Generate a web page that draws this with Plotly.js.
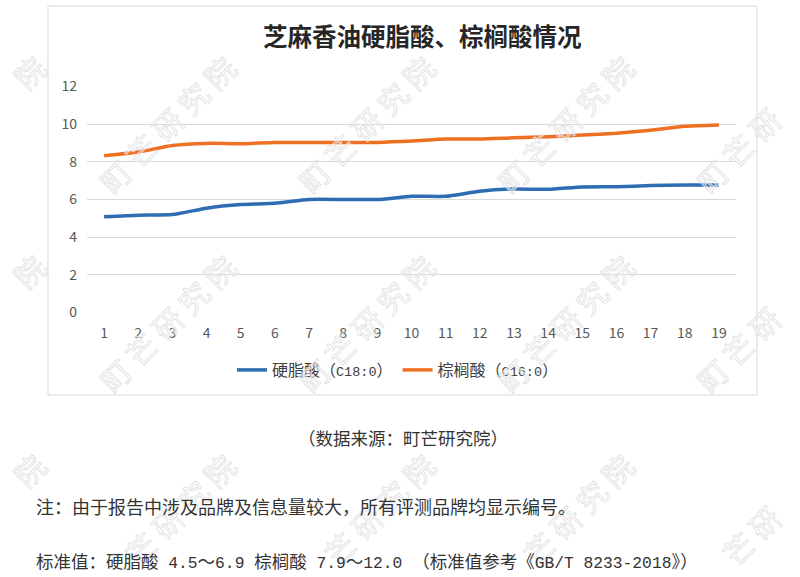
<!DOCTYPE html>
<html>
<head>
<meta charset="utf-8">
<script src="https://cdn.plot.ly/plotly-3.0.1.min.js"></script>
<style>html,body{margin:0;padding:0;background:#fff;}#chart{width:800px;height:577px;}</style>
</head>
<body>
<div id="chart"></div>
<script>
const brands = ["1","2","3","4","5","6","7","8","9","10","11","12","13","14","15","16","17","18","19"];
const stearic = [5.08,5.17,5.20,5.54,5.73,5.80,6.00,6.00,6.00,6.17,6.17,6.44,6.56,6.54,6.67,6.68,6.74,6.77,6.77];
const palmitic = [8.32,8.52,8.87,8.98,8.96,9.03,9.03,9.03,9.03,9.10,9.21,9.21,9.28,9.33,9.42,9.52,9.68,9.89,9.96];
const yTicks = [0,2,4,6,8,10,12];
const seriesNames = ["硬脂酸（C18:0）","棕榈酸（C16:0）"];
const titleText = "芝麻香油硬脂酸、棕榈酸情况";
const sourceText = "（数据来源：町芒研究院）";
const noteText = "注：由于报告中涉及品牌及信息量较大，所有评测品牌均显示编号。";
const stdText = "标准值：硬脂酸 4.5～6.9 棕榈酸 7.9～12.0 （标准值参考《GB/T 8233-2018》）";
const watermarkChars = ["町","芒","研","究","院"];

const W = 800, H = 577;
const px = x => x / W;
const py = y => 1 - y / H;
const FONT = '"Noto Sans CJK SC", "Noto Sans", sans-serif';
// wrap ASCII runs (incl. spaces) in a monospace span (reference uses half-width mono Latin)
const mono = (s, size) => s.replace(/([\x20-\x7e]+)/g,
  m => `<span style="font-family:'Liberation Mono';font-size:${size}px">${m}</span>`);

const traces = [
  {x: brands, y: stearic, name: mono(seriesNames[0], 13.5), type: 'scatter', mode: 'lines',
   line: {color: '#2E6DB4', width: 3.5, shape: 'spline', smoothing: 0.5}},
  {x: brands, y: palmitic, name: mono(seriesNames[1], 13.5), type: 'scatter', mode: 'lines',
   line: {color: '#F07023', width: 3.5, shape: 'spline', smoothing: 0.5}}
];

const annotations = [];
// watermarks: outlined characters along a 45° diagonal, skipping those outside the page
const wmX = [-23, 167, 366, 565, 764];
const wmY = [124, 323, 522];
wmY.forEach(cy => wmX.forEach(cx => {
  watermarkChars.forEach((ch, i) => {
    const k = i - 2;
    const x = cx + 26 * k, y = cy - 26 * k;
    if (x < 28 || x > 772 || y < 26 || y > 552) return;
    annotations.push({
      text: `<span style="fill:rgba(255,255,255,0.3);stroke:#e0e0e0;stroke-width:0.8px">${ch}</span>`,
      xref: 'paper', yref: 'paper', x: px(x), y: py(y),
      xanchor: 'center', yanchor: 'middle', showarrow: false, textangle: -45,
      font: {family: FONT, size: 30, color: '#e0e0e0'}});
  });
}));
annotations.push({text: titleText, xref: 'paper', yref: 'paper', x: px(422), y: py(35),
  xanchor: 'center', yanchor: 'middle', showarrow: false,
  font: {family: FONT, size: 24.5, color: '#262626', weight: 'bold'}});
annotations.push({text: sourceText, xref: 'paper', yref: 'paper', x: px(403), y: py(437),
  xanchor: 'center', yanchor: 'middle', showarrow: false,
  font: {family: FONT, size: 17.5, color: '#333333'}});
annotations.push({text: noteText, xref: 'paper', yref: 'paper', x: px(34), y: py(506),
  xanchor: 'left', yanchor: 'middle', showarrow: false,
  font: {family: FONT, size: 18, color: '#333333'}});
annotations.push({text: mono(stdText, 16.3), xref: 'paper', yref: 'paper', x: px(34), y: py(560),
  xanchor: 'left', yanchor: 'middle', showarrow: false,
  font: {family: FONT, size: 17.5, color: '#333333'}});

const layout = {
  width: W, height: H,
  margin: {l: 0, r: 0, t: 0, b: 0},
  paper_bgcolor: '#ffffff', plot_bgcolor: '#ffffff',
  font: {family: FONT, color: '#595959', size: 14},
  showlegend: true,
  legend: {orientation: 'h', x: px(232), y: py(370), xanchor: 'left', yanchor: 'middle',
    font: {family: FONT, size: 16, color: '#404040'}, bgcolor: 'rgba(0,0,0,0)',
    traceorder: 'normal'},
  xaxis: {domain: [px(87), px(736)], type: 'category', range: [-0.5, 18.5],
    showgrid: false, zeroline: false, showline: false, ticks: '', ticklabelstandoff: 10,
    tickfont: {family: FONT, size: 14, color: '#595959'}, fixedrange: true},
  yaxis: {domain: [py(312.5), py(86.5)], range: [0, 12], tickvals: yTicks,
    ticktext: yTicks.map(String),
    showgrid: true, gridcolor: '#d9d9d9', gridwidth: 1, zeroline: false, showline: false,
    ticks: '', ticklabelstandoff: 9,
    tickfont: {family: FONT, size: 14, color: '#595959'}, fixedrange: true},
  shapes: [
    {type: 'rect', xref: 'paper', yref: 'paper', x0: px(48), x1: px(757), y0: py(395), y1: py(6),
     line: {color: '#d9d9d9', width: 1}, fillcolor: 'rgba(0,0,0,0)', layer: 'below'}
  ],
  annotations: annotations
};

Plotly.newPlot('chart', traces, layout, {displayModeBar: false, staticPlot: true});
</script>
</body>
</html>
